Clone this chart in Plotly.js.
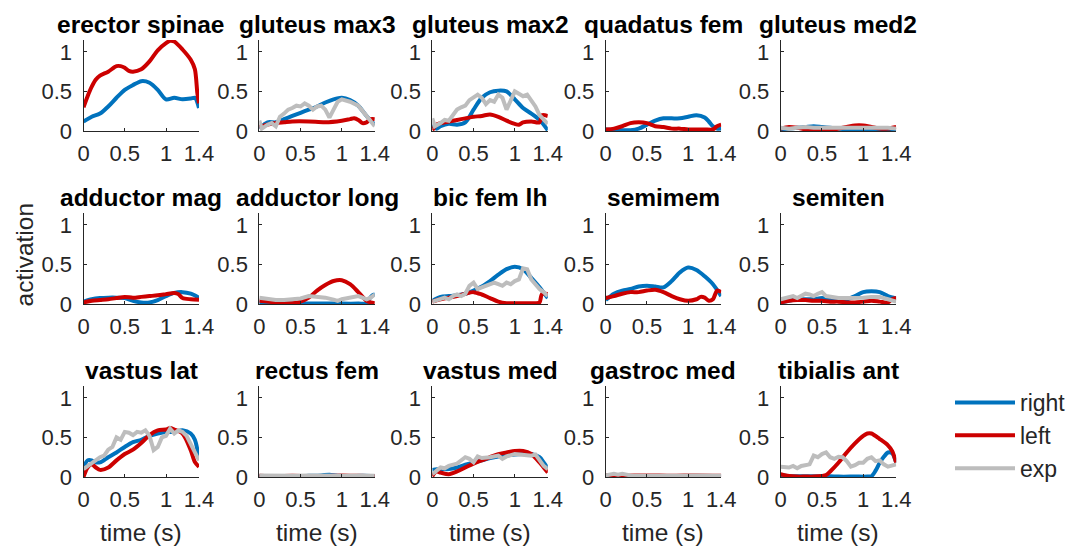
<!DOCTYPE html>
<html>
<head>
<meta charset="utf-8">
<script src="https://cdn.plot.ly/plotly-3.0.1.min.js"></script>
<style>
  html, body { margin: 0; padding: 0; background: #fff; }
  #chart { width: 1080px; height: 546px; }
</style>
</head>
<body>
<div id="chart"></div>
<script>
// Muscle names, one panel each (row-major, 3 rows x 5 columns)
const muscles = [
  'erector spinae', 'gluteus max3', 'gluteus max2', 'quadatus fem', 'gluteus med2',
  'adductor mag', 'adductor long', 'bic fem lh', 'semimem', 'semiten',
  'vastus lat', 'rectus fem', 'vastus med', 'gastroc med', 'tibialis ant'
];
const seriesNames = ['right', 'left', 'exp'];
const xTickVals = [0, 0.5, 1, 1.4];
const xTickText = ['0', '0.5', '1', '1.4'];
const yTickVals = [0, 0.5, 1];
const yTickText = ['0', '0.5', '1'];

// Activation curves as [time (s), activation] pairs
const erectorSpinaeRight = [[0,0.12],[0.1,0.18],[0.2,0.22],[0.3,0.31],[0.4,0.42],[0.5,0.52],[0.6,0.58],[0.7,0.63],[0.8,0.61],[0.9,0.52],[1.0,0.40],[1.1,0.42],[1.2,0.40],[1.3,0.41],[1.35,0.42],[1.4,0.29]];
const erectorSpinaeLeft = [[0,0.30],[0.05,0.44],[0.1,0.56],[0.15,0.65],[0.2,0.70],[0.3,0.75],[0.4,0.82],[0.45,0.82],[0.5,0.80],[0.55,0.76],[0.6,0.75],[0.7,0.78],[0.8,0.88],[0.9,1.02],[1.0,1.11],[1.05,1.14],[1.1,1.13],[1.2,1.03],[1.3,0.90],[1.35,0.78],[1.38,0.48],[1.4,0.35]];

const gluteusMax3Right = [[0,0.03],[0.1,0.11],[0.2,0.11],[0.3,0.15],[0.4,0.19],[0.5,0.23],[0.6,0.27],[0.7,0.31],[0.8,0.36],[0.9,0.40],[1.0,0.42],[1.1,0.39],[1.2,0.32],[1.3,0.19],[1.4,0.08]];
const gluteusMax3Left = [[0,0.05],[0.1,0.08],[0.2,0.10],[0.3,0.11],[0.4,0.12],[0.6,0.12],[0.8,0.11],[1.0,0.13],[1.1,0.15],[1.15,0.16],[1.2,0.14],[1.25,0.10],[1.3,0.11],[1.35,0.15],[1.4,0.15]];
const gluteusMax3Exp = [[0,0.13],[0.03,0.03],[0.1,0.08],[0.15,0.10],[0.2,0.06],[0.25,0.18],[0.3,0.22],[0.35,0.27],[0.4,0.29],[0.45,0.32],[0.5,0.31],[0.55,0.35],[0.6,0.32],[0.65,0.27],[0.7,0.31],[0.75,0.32],[0.8,0.27],[0.85,0.17],[0.9,0.27],[0.95,0.37],[1.0,0.40],[1.05,0.39],[1.1,0.37],[1.2,0.32],[1.25,0.25],[1.3,0.18],[1.35,0.13],[1.4,0.06]];

const gluteusMax2Right = [[0,0.08],[0.05,0.03],[0.1,0.06],[0.2,0.09],[0.3,0.08],[0.4,0.11],[0.5,0.27],[0.6,0.42],[0.7,0.49],[0.8,0.51],[0.9,0.50],[1.0,0.40],[1.1,0.29],[1.2,0.22],[1.3,0.14],[1.4,0.01]];
const gluteusMax2Left = [[0,0.01],[0.05,0.08],[0.1,0.10],[0.2,0.12],[0.3,0.14],[0.4,0.16],[0.5,0.18],[0.6,0.19],[0.7,0.21],[0.8,0.18],[0.9,0.13],[1.0,0.09],[1.05,0.08],[1.1,0.11],[1.2,0.12],[1.3,0.11],[1.33,0.20],[1.4,0.19]];
const gluteusMax2Exp = [[0,0.16],[0.03,0.06],[0.1,0.10],[0.15,0.14],[0.2,0.13],[0.25,0.20],[0.3,0.27],[0.35,0.30],[0.4,0.32],[0.45,0.39],[0.5,0.43],[0.55,0.46],[0.6,0.42],[0.65,0.34],[0.7,0.39],[0.75,0.37],[0.8,0.46],[0.85,0.42],[0.9,0.27],[0.95,0.39],[1.0,0.50],[1.05,0.47],[1.1,0.44],[1.15,0.46],[1.2,0.39],[1.25,0.31],[1.3,0.20],[1.35,0.14],[1.4,0.09]];

const quadatusFemRight = [[0,0.02],[0.1,0.01],[0.2,0.01],[0.3,0.01],[0.4,0.03],[0.5,0.08],[0.6,0.13],[0.7,0.16],[0.8,0.16],[0.9,0.16],[1.0,0.18],[1.1,0.20],[1.2,0.17],[1.25,0.12],[1.3,0.06],[1.35,0.03],[1.4,0.03]];
const quadatusFemLeft = [[0,0.02],[0.1,0.03],[0.2,0.06],[0.3,0.10],[0.4,0.11],[0.5,0.10],[0.6,0.06],[0.7,0.05],[0.8,0.03],[0.9,0.03],[1.0,0.02],[1.1,0.02],[1.2,0.02],[1.3,0.02],[1.35,0.06],[1.4,0.08]];

const gluteusMed2Right = [[0,0.02],[0.1,0.03],[0.2,0.04],[0.3,0.05],[0.4,0.06],[0.5,0.05],[0.6,0.04],[0.7,0.03],[0.8,0.02],[0.9,0.01],[1.0,0.01],[1.1,0.01],[1.2,0.01],[1.3,0.01],[1.4,0.01]];
const gluteusMed2Left = [[0,0.03],[0.1,0.05],[0.2,0.04],[0.3,0.02],[0.4,0.01],[0.5,0.01],[0.6,0.01],[0.7,0.03],[0.8,0.05],[0.9,0.07],[1.0,0.07],[1.1,0.05],[1.2,0.03],[1.3,0.03],[1.4,0.05]];
const gluteusMed2Exp = [[0,0.04],[0.1,0.03],[0.2,0.04],[0.3,0.05],[0.4,0.04],[0.5,0.04],[0.6,0.05],[0.7,0.05],[0.8,0.04],[0.9,0.04],[1.0,0.05],[1.1,0.04],[1.2,0.04],[1.3,0.04],[1.4,0.03]];

const adductorMagRight = [[0,0.03],[0.1,0.06],[0.2,0.075],[0.3,0.08],[0.4,0.08],[0.5,0.075],[0.6,0.04],[0.7,0.02],[0.8,0.02],[0.9,0.05],[1.0,0.10],[1.1,0.14],[1.2,0.15],[1.3,0.13],[1.4,0.08]];
const adductorMagLeft = [[0,0.02],[0.1,0.04],[0.2,0.05],[0.3,0.06],[0.4,0.075],[0.5,0.09],[0.6,0.08],[0.7,0.09],[0.8,0.10],[0.9,0.11],[1.0,0.125],[1.1,0.14],[1.15,0.125],[1.2,0.075],[1.3,0.06],[1.4,0.055]];

const adductorLongRight = [[0,0.02],[0.1,0.01],[0.3,0.005],[0.6,0.005],[0.9,0.005],[1.2,0.005],[1.3,0.01],[1.33,0.06],[1.37,0.11],[1.4,0.12]];
const adductorLongLeft = [[0,0.04],[0.1,0.03],[0.2,0.02],[0.3,0.01],[0.4,0.01],[0.5,0.03],[0.6,0.08],[0.7,0.17],[0.8,0.24],[0.9,0.29],[1.0,0.30],[1.1,0.25],[1.2,0.15],[1.3,0.04],[1.35,0.02],[1.4,0.01]];
const adductorLongExp = [[0,0.08],[0.1,0.06],[0.2,0.05],[0.3,0.05],[0.4,0.055],[0.5,0.07],[0.6,0.10],[0.7,0.09],[0.8,0.08],[0.9,0.055],[0.95,0.04],[1.0,0.06],[1.1,0.075],[1.2,0.10],[1.25,0.08],[1.3,0.06],[1.35,0.08],[1.4,0.12]];

const bicFemLhRight = [[0,0.04],[0.1,0.09],[0.2,0.10],[0.3,0.11],[0.4,0.13],[0.5,0.17],[0.6,0.22],[0.7,0.29],[0.8,0.37],[0.9,0.44],[1.0,0.47],[1.1,0.44],[1.2,0.33],[1.3,0.21],[1.4,0.075]];
const bicFemLhLeft = [[0,0.03],[0.1,0.06],[0.2,0.08],[0.3,0.10],[0.4,0.13],[0.5,0.15],[0.6,0.12],[0.7,0.075],[0.8,0.03],[0.9,0.01],[1.0,0.01],[1.1,0.01],[1.2,0.01],[1.25,0.01],[1.3,0.02],[1.33,0.125],[1.4,0.125]];
const bicFemLhExp = [[0,0.03],[0.1,0.06],[0.15,0.08],[0.2,0.06],[0.25,0.10],[0.3,0.12],[0.35,0.10],[0.4,0.13],[0.45,0.23],[0.5,0.27],[0.55,0.19],[0.6,0.21],[0.7,0.25],[0.75,0.27],[0.8,0.25],[0.85,0.23],[0.9,0.27],[0.95,0.25],[1.0,0.29],[1.05,0.31],[1.1,0.45],[1.15,0.44],[1.2,0.31],[1.25,0.25],[1.3,0.19],[1.35,0.15],[1.4,0.10]];

const semimemRight = [[0,0.05],[0.1,0.13],[0.2,0.17],[0.3,0.19],[0.4,0.22],[0.5,0.23],[0.6,0.22],[0.7,0.21],[0.8,0.29],[0.9,0.40],[1.0,0.46],[1.1,0.43],[1.2,0.35],[1.3,0.25],[1.4,0.10]];
const semimemLeft = [[0,0.075],[0.1,0.10],[0.2,0.13],[0.3,0.15],[0.4,0.15],[0.5,0.17],[0.6,0.18],[0.7,0.15],[0.8,0.10],[0.9,0.06],[1.0,0.04],[1.1,0.06],[1.15,0.09],[1.2,0.08],[1.25,0.04],[1.3,0.06],[1.35,0.17],[1.4,0.15]];

const semitenRight = [[0,0.02],[0.1,0.04],[0.2,0.06],[0.3,0.06],[0.4,0.06],[0.5,0.075],[0.6,0.06],[0.7,0.05],[0.8,0.06],[0.9,0.10],[1.0,0.15],[1.1,0.16],[1.2,0.15],[1.3,0.10],[1.4,0.07]];
const semitenLeft = [[0,0.02],[0.1,0.04],[0.2,0.05],[0.3,0.05],[0.4,0.04],[0.5,0.04],[0.6,0.03],[0.7,0.03],[0.8,0.02],[0.9,0.02],[1.0,0.03],[1.1,0.04],[1.2,0.03],[1.3,0.02],[1.35,0.06],[1.4,0.075]];
const semitenExp = [[0,0.06],[0.1,0.08],[0.15,0.10],[0.2,0.075],[0.3,0.13],[0.35,0.12],[0.4,0.10],[0.45,0.13],[0.5,0.15],[0.55,0.10],[0.6,0.09],[0.7,0.075],[0.8,0.075],[0.9,0.075],[1.0,0.08],[1.1,0.09],[1.2,0.09],[1.3,0.06],[1.4,0.03]];

const vastusLatRight = [[0,0.12],[0.05,0.21],[0.1,0.21],[0.15,0.185],[0.2,0.185],[0.3,0.25],[0.4,0.31],[0.5,0.38],[0.6,0.44],[0.7,0.47],[0.8,0.52],[0.9,0.55],[1.0,0.57],[1.1,0.57],[1.2,0.59],[1.3,0.55],[1.35,0.47],[1.4,0.23]];
const vastusLatLeft = [[0,0.00],[0.05,0.12],[0.1,0.16],[0.15,0.12],[0.2,0.09],[0.3,0.12],[0.4,0.21],[0.5,0.29],[0.6,0.345],[0.7,0.43],[0.8,0.53],[0.9,0.59],[1.0,0.60],[1.05,0.62],[1.1,0.60],[1.2,0.55],[1.3,0.34],[1.35,0.19],[1.4,0.13]];
const vastusLatExp = [[0,0.10],[0.05,0.14],[0.1,0.17],[0.2,0.25],[0.25,0.27],[0.3,0.345],[0.35,0.38],[0.4,0.50],[0.45,0.47],[0.5,0.57],[0.55,0.56],[0.6,0.53],[0.65,0.57],[0.7,0.56],[0.75,0.59],[0.8,0.52],[0.85,0.34],[0.9,0.38],[0.95,0.50],[1.0,0.52],[1.05,0.61],[1.1,0.55],[1.15,0.59],[1.2,0.57],[1.25,0.52],[1.3,0.42],[1.35,0.31],[1.4,0.21]];

const rectusFemRight = [[0,0.01],[0.2,0.01],[0.4,0.01],[0.6,0.015],[0.75,0.02],[0.85,0.03],[0.95,0.015],[1.1,0.01],[1.25,0.015],[1.4,0.01]];
const rectusFemLeft = [[0,0.015],[0.2,0.01],[0.4,0.015],[0.6,0.01],[0.8,0.01],[1.0,0.02],[1.2,0.015],[1.4,0.01]];
const rectusFemExp = [[0,0.02],[0.15,0.015],[0.3,0.02],[0.45,0.015],[0.6,0.02],[0.75,0.015],[0.9,0.02],[1.05,0.015],[1.2,0.02],[1.4,0.015]];

const vastusMedRight = [[0,0.09],[0.1,0.10],[0.2,0.10],[0.3,0.12],[0.4,0.155],[0.5,0.185],[0.6,0.21],[0.7,0.24],[0.8,0.26],[0.9,0.27],[1.0,0.285],[1.1,0.29],[1.2,0.29],[1.3,0.25],[1.35,0.185],[1.4,0.11]];
const vastusMedLeft = [[0,0.01],[0.05,0.07],[0.1,0.056],[0.2,0.035],[0.3,0.07],[0.4,0.12],[0.5,0.17],[0.6,0.21],[0.7,0.25],[0.8,0.29],[0.9,0.31],[1.0,0.33],[1.1,0.33],[1.2,0.29],[1.3,0.185],[1.35,0.12],[1.4,0.056]];
const vastusMedExp = [[0,0.035],[0.05,0.08],[0.1,0.12],[0.15,0.11],[0.2,0.14],[0.3,0.17],[0.35,0.21],[0.4,0.25],[0.45,0.23],[0.5,0.185],[0.55,0.26],[0.6,0.24],[0.7,0.25],[0.8,0.27],[0.85,0.23],[0.9,0.26],[1.0,0.29],[1.1,0.285],[1.2,0.27],[1.25,0.285],[1.3,0.21],[1.35,0.14],[1.4,0.10]];

const gastrocMedRight = [[0,0.01],[0.3,0.01],[0.6,0.01],[0.9,0.01],[1.2,0.01],[1.4,0.01]];
const gastrocMedLeft = [[0,0.02],[0.2,0.015],[0.5,0.02],[0.8,0.015],[1.1,0.02],[1.4,0.015]];
const gastrocMedExp = [[0,0.02],[0.1,0.04],[0.15,0.03],[0.2,0.04],[0.3,0.02],[0.5,0.015],[0.7,0.02],[0.9,0.015],[1.1,0.02],[1.4,0.015]];

const tibialisAntRight = [[0,0.025],[0.1,0.01],[0.3,0.01],[0.5,0.01],[0.6,0.01],[0.7,0.005],[0.9,0.005],[1.05,0.005],[1.1,0.01],[1.15,0.08],[1.2,0.18],[1.25,0.255],[1.3,0.31],[1.35,0.30],[1.4,0.18]];
const tibialisAntLeft = [[0,0.035],[0.1,0.013],[0.2,0.005],[0.3,0.005],[0.4,0.005],[0.5,0.013],[0.55,0.025],[0.6,0.07],[0.7,0.18],[0.8,0.31],[0.9,0.425],[1.0,0.52],[1.05,0.55],[1.1,0.55],[1.2,0.48],[1.3,0.40],[1.35,0.33],[1.4,0.18]];
const tibialisAntExp = [[0,0.13],[0.1,0.12],[0.15,0.14],[0.2,0.11],[0.25,0.14],[0.3,0.15],[0.35,0.16],[0.4,0.27],[0.45,0.25],[0.5,0.29],[0.55,0.31],[0.6,0.25],[0.65,0.23],[0.7,0.255],[0.75,0.25],[0.8,0.20],[0.85,0.13],[0.9,0.15],[0.95,0.18],[1.0,0.18],[1.05,0.23],[1.1,0.25],[1.15,0.20],[1.2,0.21],[1.25,0.16],[1.3,0.13],[1.35,0.14],[1.4,0.16]];

// [right, left, exp] per panel; null where a series is absent
const panelSeries = [
  [erectorSpinaeRight, erectorSpinaeLeft, null],
  [gluteusMax3Right, gluteusMax3Left, gluteusMax3Exp],
  [gluteusMax2Right, gluteusMax2Left, gluteusMax2Exp],
  [quadatusFemRight, quadatusFemLeft, null],
  [gluteusMed2Right, gluteusMed2Left, gluteusMed2Exp],
  [adductorMagRight, adductorMagLeft, null],
  [adductorLongRight, adductorLongLeft, adductorLongExp],
  [bicFemLhRight, bicFemLhLeft, bicFemLhExp],
  [semimemRight, semimemLeft, null],
  [semitenRight, semitenLeft, semitenExp],
  [vastusLatRight, vastusLatLeft, vastusLatExp],
  [rectusFemRight, rectusFemLeft, rectusFemExp],
  [vastusMedRight, vastusMedLeft, vastusMedExp],
  [gastrocMedRight, gastrocMedLeft, gastrocMedExp],
  [tibialisAntRight, tibialisAntLeft, tibialisAntExp]
];

// Styling
const W = 1080, H = 546;
const FONT = 'Liberation Sans, Arial, Helvetica, sans-serif';
const AXIS_COLOR = '#262626';
const COLORS = ['#0072BD', '#CC0000', '#BDBDBD'];
const TICK_SIZE = 22, LABEL_SIZE = 24.5, TITLE_SIZE = 24.5, LEGEND_SIZE = 23;
const colLeftPx = [83.5, 259.3, 432.3, 605.7, 780.7];
const colWidthPx = 115.5;
const rowTopPx = [40, 213, 386];
const rowHeightPx = 91;

const traces = [];
const annotations = [];
const layout = {
  width: W, height: H,
  margin: {l: 0, r: 0, t: 0, b: 0},
  paper_bgcolor: '#ffffff', plot_bgcolor: '#ffffff',
  font: {family: FONT, size: TICK_SIZE, color: AXIS_COLOR},
  showlegend: true,
  legend: {
    x: 950 / W, y: 1 - 381 / H, xanchor: 'left', yanchor: 'top',
    font: {family: FONT, size: LEGEND_SIZE, color: AXIS_COLOR},
    itemwidth: 60, tracegroupgap: 0, traceorder: 'grouped',
    bgcolor: 'rgba(0,0,0,0)'
  },
  annotations: annotations
};

const legendShown = [false, false, false];

panelSeries.forEach((series, i) => {
  const row = Math.floor(i / 5), col = i % 5;
  const suffix = i === 0 ? '' : String(i + 1);
  const x0 = colLeftPx[col] / W, x1 = (colLeftPx[col] + colWidthPx) / W;
  const y1 = 1 - rowTopPx[row] / H, y0 = 1 - (rowTopPx[row] + rowHeightPx) / H;

  layout['xaxis' + suffix] = {
    domain: [x0, x1], anchor: 'y' + suffix, range: [0, 1.4],
    tickvals: xTickVals, ticktext: xTickText,
    ticks: 'inside', ticklen: 3, tickwidth: 1, tickcolor: AXIS_COLOR,
    showline: true, linecolor: AXIS_COLOR, linewidth: 1,
    showgrid: false, zeroline: false, fixedrange: true,
    tickfont: {family: FONT, size: TICK_SIZE, color: AXIS_COLOR},
    ticklabelstandoff: 3
  };
  layout['yaxis' + suffix] = {
    domain: [y0, y1], anchor: 'x' + suffix, range: [0, 1.15],
    tickvals: yTickVals, ticktext: yTickText,
    ticks: 'inside', ticklen: 3, tickwidth: 1, tickcolor: AXIS_COLOR,
    showline: true, linecolor: AXIS_COLOR, linewidth: 1,
    showgrid: false, zeroline: false, fixedrange: true,
    tickfont: {family: FONT, size: TICK_SIZE, color: AXIS_COLOR},
    ticklabelstandoff: 6
  };

  // panel title
  annotations.push({
    text: '<b>' + muscles[i] + '</b>', xref: 'paper', yref: 'paper',
    x: (x0 + x1) / 2, y: y1, xanchor: 'center', yanchor: 'bottom',
    showarrow: false, font: {family: FONT, size: TITLE_SIZE, color: '#000000'}
  });
  // time label under the bottom row
  if (row === 2) {
    annotations.push({
      text: 'time (s)', xref: 'paper', yref: 'paper',
      x: (x0 + x1) / 2, y: 1 - 532 / H, xanchor: 'center', yanchor: 'middle',
      showarrow: false, font: {family: FONT, size: LABEL_SIZE, color: AXIS_COLOR}
    });
  }

  series.forEach((pts, k) => {
    if (!pts) return;
    const show = !legendShown[k];
    legendShown[k] = true;
    traces.push({
      type: 'scatter', mode: 'lines',
      x: pts.map(p => p[0]), y: pts.map(p => p[1]),
      xaxis: 'x' + suffix, yaxis: 'y' + suffix,
      name: seriesNames[k], legendgroup: seriesNames[k], legendrank: k + 1,
      showlegend: show,
      line: {color: COLORS[k], width: 4, shape: k < 2 ? 'spline' : 'linear', smoothing: 0.8},
      hoverinfo: 'skip'
    });
  });
});

// shared y label
annotations.push({
  text: 'activation', xref: 'paper', yref: 'paper',
  x: 23.5 / W, y: 1 - 255 / H, xanchor: 'center', yanchor: 'middle',
  textangle: -90, showarrow: false,
  font: {family: FONT, size: LABEL_SIZE, color: AXIS_COLOR}
});

Plotly.newPlot('chart', traces, layout, {staticPlot: true, displayModeBar: false});
</script>
</body>
</html>
